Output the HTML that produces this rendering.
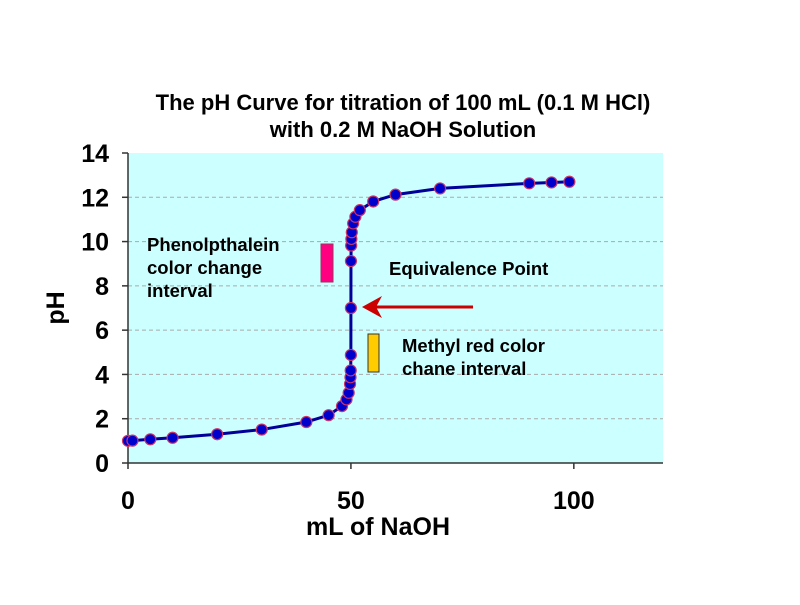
<!DOCTYPE html>
<html><head><meta charset="utf-8"><style>
body{margin:0;background:#fff;width:800px;height:600px;overflow:hidden}
svg text{font-family:"Liberation Sans",Arial,sans-serif;font-weight:bold}
</style></head><body>
<svg id="chart" width="800" height="600" viewBox="0 0 800 600" xmlns="http://www.w3.org/2000/svg">
<text x="403" y="110" text-anchor="middle" font-size="22">The pH Curve for titration of 100 mL (0.1 M HCl)</text>
<text x="403" y="137" text-anchor="middle" font-size="22">with 0.2 M NaOH Solution</text>
<rect x="128" y="153" width="535" height="310" fill="#ccffff"/>
<g id="grid"></g>
<g id="axes"></g>
<path id="curve" fill="none" stroke="#000099" stroke-width="3"/>
<g id="points"></g>
<rect x="321" y="244" width="12" height="38" fill="#ff0080" stroke="#993366" stroke-width="1"/>
<rect x="368" y="334" width="11" height="38" fill="#ffcc00" stroke="#333" stroke-width="1"/>
<line x1="473" y1="307" x2="375" y2="307" stroke="#cc0000" stroke-width="3"/>
<polygon points="362,307 382,296 376,307 382,318" fill="#cc0000"/>
<text font-size="18.5"><tspan x="147" y="251">Phenolpthalein</tspan><tspan x="147" y="274">color change</tspan><tspan x="147" y="297">interval</tspan></text>
<text x="389" y="275" font-size="18.5">Equivalence Point</text>
<text font-size="18.5"><tspan x="402" y="352">Methyl red color</tspan><tspan x="402" y="375">chane interval</tspan></text>
<text x="378" y="535" text-anchor="middle" font-size="25">mL of NaOH</text>
<text transform="translate(64,308) rotate(-90)" text-anchor="middle" font-size="25">pH</text>
</svg>
<script>
const volumes=[0,1,5,10,20,30,40,45,48,49,49.5,49.8,49.9,49.95,49.99,50,50.01,50.05,50.1,50.2,50.5,51,52,55,60,70,90,95,99];
const phValues=[1.0,1.01,1.07,1.14,1.3,1.51,1.85,2.16,2.57,2.87,3.17,3.57,3.87,4.18,4.88,7.0,9.12,9.82,10.12,10.42,10.82,11.12,11.42,11.81,12.12,12.4,12.63,12.67,12.7];
const xTicks=[0,50,100];
const yTicks=[0,2,4,6,8,10,12,14];
const ns="http://www.w3.org/2000/svg";
const X0=128,X1=663,Y0=463,Y1=153;
function sx(v){return X0+(v/120)*(X1-X0);}
function sy(v){return Y0-(v/14)*(Y0-Y1);}
function mk(t,a,p){const e=document.createElementNS(ns,t);for(const k in a)e.setAttribute(k,a[k]);p.appendChild(e);return e;}
const grid=document.getElementById('grid'),axes=document.getElementById('axes');
yTicks.forEach(t=>{
 if(t>0&&t<14){const g=mk('line',{x1:X0,x2:X1,y1:sy(t),y2:sy(t),stroke:'#aaaaaa','stroke-dasharray':'4,3','stroke-width':1},grid);
 
 }
 const tk=mk('line',{x1:X0-6,x2:X0,y1:sy(t),y2:sy(t),stroke:'#333','stroke-width':1.5},axes);
 
 
 const tx=mk('text',{x:X0-19,y:sy(t)+9,'text-anchor':'end','font-size':25},axes);tx.textContent=t;
 
 
});
xTicks.forEach(t=>{
 const tk=mk('line',{x1:sx(t),x2:sx(t),y1:Y0,y2:Y0+6,stroke:'#333','stroke-width':1.5},axes);
 
 
 const tx=mk('text',{x:sx(t),y:Y0+46,'text-anchor':'middle','font-size':25},axes);tx.textContent=t;
 
 
});
const ya=mk('line',{x1:X0,x2:X0,y1:Y1,y2:Y0,stroke:'#333','stroke-width':1.5},axes);


const xa=mk('line',{x1:X0,x2:X1,y1:Y0,y2:Y0,stroke:'#333','stroke-width':1.5},axes);


document.getElementById('curve').setAttribute('d',volumes.map((v,i)=>(i?'L':'M')+sx(v)+','+sy(phValues[i])).join(' '));
const pts=document.getElementById('points');
volumes.forEach((v,i)=>{
 const c=mk('circle',{cx:sx(v),cy:sy(phValues[i]),r:5.5,fill:'#0000cc',stroke:'#cc3366','stroke-width':1.2},pts);
 
 
});
</script>
</body></html>
